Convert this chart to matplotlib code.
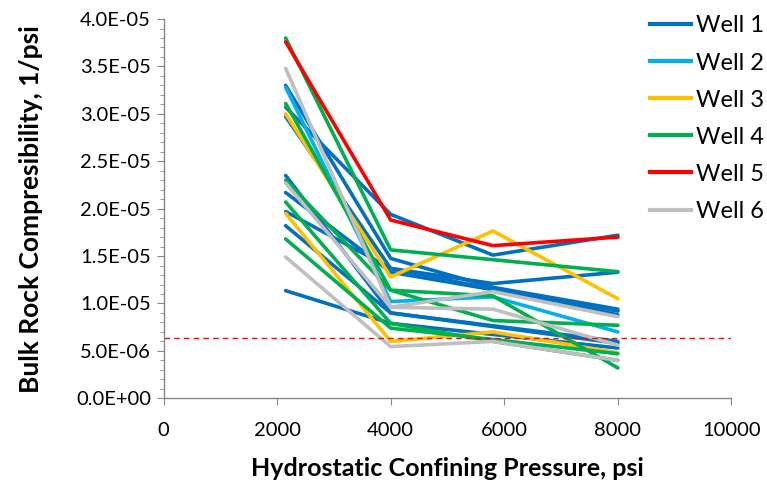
import numpy as np
import matplotlib.pyplot as plt
from matplotlib.ticker import FuncFormatter, MultipleLocator
from matplotlib.lines import Line2D

plt.rcParams['font.family'] = ['Lato', 'DejaVu Sans']

# pressure steps, psi
p3 = [2150, 4000, 8000]
p4 = [2150, 4000, 5800, 8000]

# compressibility, units of 1e-5 1/psi
well1 = [
    (p4, [3.07, 1.94, 1.51, 1.72]),
    (p4, [3.30, 1.475, 1.17, 0.94]),
    (p4, [2.97, 1.37, 1.21, 1.33]),
    (p3, [1.97, 1.37, 0.88]),
    (p3, [2.35, 0.90, 0.60]),
    (p3, [2.17, 1.33, 0.92]),
    (p3, [1.82, 0.90, 0.58]),
    (p3, [1.135, 0.79, 0.53]),
]
well2 = [
    (p4, [3.28, 1.02, 1.07, 0.70]),
]
well3 = [
    (p4, [3.00, 1.28, 1.765, 1.05]),
    (p4, [1.95, 0.60, 0.70, 0.48]),
]
well4 = [
    (p3, [3.80, 1.565, 1.335]),
    (p4, [3.11, 1.14, 1.08, 0.32]),
    (p4, [2.30, 1.14, 0.82, 0.77]),
    (p4, [2.07, 0.79, 0.60, 0.40]),
    (p4, [1.68, 0.74, 0.62, 0.47]),
]
well5 = [
    (p4, [3.76, 1.88, 1.61, 1.70]),
]
well6 = [
    (p4, [3.48, 0.96, 1.125, 0.86]),
    (p4, [2.27, 0.96, 0.94, 0.56]),
    (p4, [1.49, 0.545, 0.60, 0.40]),
]

wells = ['Well 1', 'Well 2', 'Well 3', 'Well 4', 'Well 5', 'Well 6']
colors = ['#0070C0', '#00B0F0', '#FFC000', '#00B050', '#FF0000', '#BFBFBF']
threshold = 6.4e-6

fig = plt.figure(figsize=(7.67, 4.84), dpi=100)
ax = fig.add_axes([0.2132, 0.1771, 0.7405, 0.7836])

for data, c in zip([well1, well2, well3, well4, well5, well6], colors):
    for x, y in data:
        ax.plot(x, np.array(y) * 1e-5, color=c, lw=2.6, solid_capstyle='round')

ax.axhline(threshold, color='#FF0000', lw=1.0, ls=(0, (4, 3)))

ax.set_xlim(0, 10000)
ax.set_ylim(0, 4e-5)
ax.xaxis.set_major_locator(MultipleLocator(2000))
ax.yaxis.set_major_locator(MultipleLocator(5e-6))
ax.yaxis.set_minor_locator(MultipleLocator(1e-6))
ax.yaxis.set_major_formatter(FuncFormatter(lambda v, pos: f'{v:.1E}'))

for s in ['top', 'right']:
    ax.spines[s].set_visible(False)
for s in ['left', 'bottom']:
    ax.spines[s].set_color('#868686')
    ax.spines[s].set_linewidth(1.0)
ax.tick_params(axis='both', which='both', color='#868686', direction='out')
ax.tick_params(axis='both', which='major', length=5, labelsize=14.5)
ax.tick_params(axis='x', which='major', pad=12)
ax.tick_params(axis='y', which='major', pad=4)
ax.tick_params(axis='y', which='minor', length=3)

ax.set_xlabel('Hydrostatic Confining Pressure, psi', fontsize=18, fontweight='bold', labelpad=13)
ax.set_ylabel('Bulk Rock Compresibility, 1/psi', fontsize=19, fontweight='bold', labelpad=24)

handles = [Line2D([], [], color=c, lw=3) for c in colors]
fig.legend(handles, wells, loc='upper left', bbox_to_anchor=(0.8475, 0.968),
           frameon=False, fontsize=17, handlelength=1.75, handletextpad=0.2,
           labelspacing=0.68, borderaxespad=0, borderpad=0)

fig.savefig('out.png', dpi=100)
